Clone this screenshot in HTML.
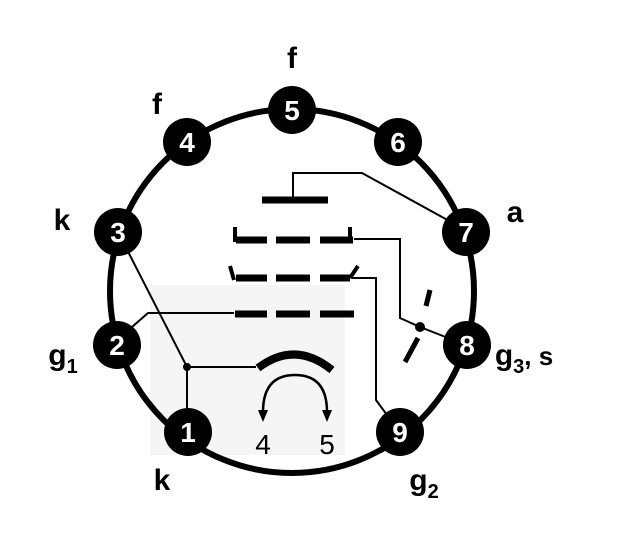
<!DOCTYPE html>
<html><head><style>
html,body{margin:0;padding:0;background:#fff;width:640px;height:559px;overflow:hidden}
svg{display:block}
</style></head><body>
<svg width="640" height="559" viewBox="0 0 640 559" xmlns="http://www.w3.org/2000/svg">
<rect x="150" y="285" width="195" height="170" fill="#f5f5f5"/>
<circle cx="292" cy="291" r="182" fill="none" stroke="#000" stroke-width="6"/>
<g stroke="#000" fill="none" stroke-width="2">
<polyline points="293,200 293,173 362,173 462,228"/>
<polyline points="354,239 400,239 400,318 420,327 466,345"/>
<polyline points="352,278 376,278 376,400 398,430"/>
<polyline points="234,313 148,313 117,340"/>
<polyline points="118,232 187,367 256,367"/>
<line x1="187" y1="367" x2="187" y2="430"/>
<path d="M263,412 Q263,375 295,375 Q327,375 327,412" stroke-width="2.5"/>
</g>
<g stroke="#000" stroke-width="7" fill="none">
<line x1="262" y1="200" x2="328" y2="200"/>
<line x1="236" y1="240" x2="267" y2="240"/><line x1="276" y1="240" x2="310" y2="240"/><line x1="320" y1="240" x2="353" y2="240"/>
<line x1="236" y1="278" x2="267" y2="278"/><line x1="276" y1="278" x2="310" y2="278"/><line x1="320" y1="278" x2="350" y2="278"/>
<line x1="235" y1="314" x2="267" y2="314"/><line x1="276" y1="314" x2="310" y2="314"/><line x1="320" y1="314" x2="354" y2="314"/>
<path d="M258,368 Q295,340 332,370" stroke-width="8"/>
<line x1="430" y1="290" x2="426" y2="306" stroke-width="5"/>
<line x1="418" y1="338" x2="405" y2="362" stroke-width="5"/>
</g>
<g stroke="#000" stroke-width="4"><line x1="235" y1="227" x2="235" y2="242"/><line x1="350" y1="227" x2="350" y2="242"/><line x1="230" y1="266" x2="234" y2="280"/><line x1="358" y1="266" x2="350" y2="278"/></g>
<circle cx="187" cy="367" r="4"/><circle cx="420" cy="327" r="5"/>
<polygon points="258,410 268,410 263,422"/><polygon points="322,410 332,410 327,422"/>
<g font-family="Liberation Sans, sans-serif" font-weight="bold" font-size="30" text-anchor="middle">
<g fill="#000">
<circle cx="292" cy="110" r="24"/><circle cx="187" cy="142" r="24"/><circle cx="398" cy="142" r="24"/>
<circle cx="118" cy="232" r="24"/><circle cx="466" cy="232" r="24"/><circle cx="117" cy="345" r="24"/>
<circle cx="467" cy="345" r="24"/><circle cx="188" cy="432" r="24"/><circle cx="400" cy="432" r="24"/>
</g>
<g fill="#fff" font-size="28">
<text x="292" y="120">5</text><text x="187" y="152">4</text><text x="398" y="152">6</text>
<text x="118" y="242">3</text><text x="466" y="242">7</text><text x="117" y="355">2</text>
<text x="467" y="355">8</text><text x="188" y="442">1</text><text x="400" y="442">9</text>
</g>
<g fill="#000">
<text x="292" y="68">f</text><text x="157" y="114">f</text><text x="62" y="230">k</text>
<text x="515" y="222">a</text><text x="162" y="490">k</text>
<text x="63" y="365">g<tspan font-size="20" dy="8">1</tspan></text>
<text x="524" y="365">g<tspan font-size="20" dy="8">3</tspan><tspan dy="-8" font-size="26">, s</tspan></text>
<text x="424" y="490">g<tspan font-size="20" dy="8">2</tspan></text>
<text x="263" y="454" font-weight="normal" font-size="28">4</text><text x="327" y="454" font-weight="normal" font-size="28">5</text>
</g>
</g>
</svg>
</body></html>
